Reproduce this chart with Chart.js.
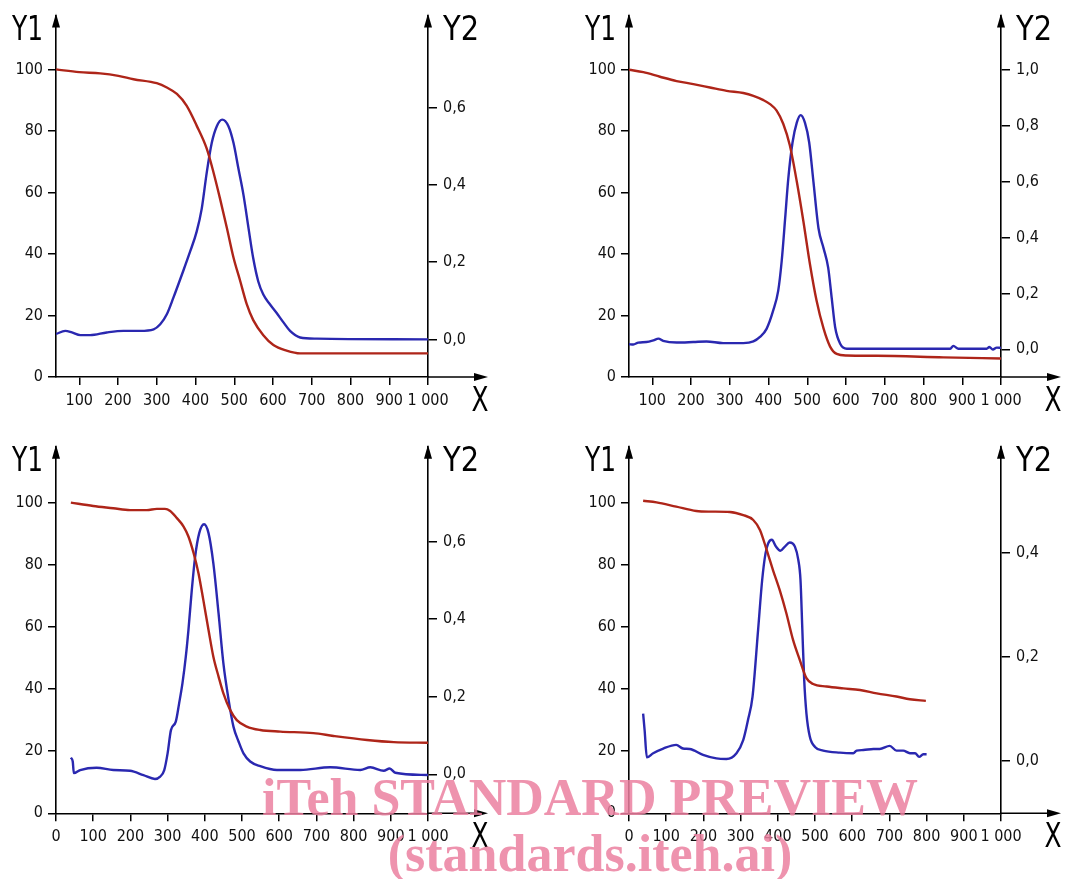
<!DOCTYPE html>
<html>
<head>
<meta charset="utf-8">
<script src="https://cdn.jsdelivr.net/npm/chart.js@4/dist/chart.umd.min.js"></script>
<style>
  body { margin: 0; background: #fff; width: 1086px; height: 879px; position: relative; overflow: hidden; }
  canvas { position: absolute; }
  .wm { position: absolute; left: 0; width: 1180px; text-align: center; white-space: nowrap;
        font: bold 52px "Liberation Serif", "Times New Roman", serif; color: rgb(236,128,160); opacity: 0.85; line-height: 52px; }
</style>
</head>
<body>
<canvas id="c1" width="543" height="430" style="left:0;top:0"></canvas>
<canvas id="c2" width="543" height="430" style="left:543px;top:0"></canvas>
<canvas id="c3" width="543" height="449" style="left:0;top:430px"></canvas>
<canvas id="c4" width="543" height="449" style="left:543px;top:430px"></canvas>
<div class="wm" style="top:772px">iTeh STANDARD PREVIEW</div>
<div class="wm" style="top:828px">(standards.iteh.ai)</div>
<script>
// panel 1 (top left)
const p1RedX = [40, 100, 154, 201, 240, 300, 326, 352, 377, 403, 429, 446, 463, 481, 498, 515, 532, 549, 575, 601, 635, 670, 800, 1000];
const p1RedY = [100.1, 99.2, 98.8, 98.0, 96.9, 95.6, 94.2, 92.1, 88.3, 81.8, 74.3, 66.8, 58.2, 48.5, 38.9, 31.4, 23.8, 18.5, 13.6, 10.4, 8.6, 7.7, 7.7, 7.7];
const p1BlueX = [40, 64, 81, 103, 128, 171, 214, 257, 292, 309, 326, 343, 365, 386, 403, 416, 429, 442, 455, 469, 485, 498, 511, 524, 537, 549, 562, 575, 592, 609, 627, 644, 670, 713, 1000];
const p1BlueY = [0.014, 0.022, 0.018, 0.011, 0.011, 0.018, 0.022, 0.022, 0.026, 0.039, 0.065, 0.108, 0.168, 0.227, 0.279, 0.338, 0.432, 0.509, 0.552, 0.569, 0.552, 0.509, 0.441, 0.373, 0.287, 0.210, 0.150, 0.116, 0.091, 0.069, 0.044, 0.022, 0.005, 0.002, 0.0];

// panel 2 (top right)
const p2RedX = [40, 77, 120, 163, 206, 249, 292, 335, 361, 387, 404, 421, 438, 455, 473, 490, 507, 524, 542, 559, 576, 602, 679, 851, 1000];
const p2RedY = [100, 99.2, 97.7, 96.3, 95.3, 94.2, 93.1, 92.4, 91.5, 90.1, 88.8, 86.7, 82.4, 75.4, 63.6, 50.7, 36.7, 24.9, 15.8, 9.9, 7.5, 7.0, 6.9, 6.4, 6.0];
const p2BlueX = [40, 51, 64, 85, 103, 116, 128, 163, 206, 240, 283, 335, 361, 378, 395, 412, 425, 434, 443, 451, 462, 473, 483, 494, 505, 516, 529, 542, 554, 563, 572, 585, 602, 679, 869, 877, 890, 963, 970, 979, 989, 1000];
const p2BlueY = [0.018, 0.017, 0.024, 0.026, 0.032, 0.038, 0.030, 0.024, 0.026, 0.028, 0.022, 0.022, 0.028, 0.044, 0.073, 0.138, 0.209, 0.315, 0.469, 0.610, 0.740, 0.811, 0.838, 0.811, 0.740, 0.599, 0.433, 0.362, 0.292, 0.185, 0.079, 0.020, 0.002, 0.002, 0.002, 0.012, 0.002, 0.002, 0.008, -0.001, 0.006, 0.005];

// panel 3 (bottom left)
const p3RedX = [40, 100, 154, 199, 244, 271, 293, 307, 325, 343, 356, 370, 383, 396, 410, 423, 437, 450, 468, 486, 513, 549, 603, 692, 746, 836, 908, 1000];
const p3RedY = [100, 98.9, 98.2, 97.6, 97.6, 98.0, 98.0, 97.3, 95.0, 92.3, 89.1, 83.7, 77.3, 68.7, 59.0, 50.4, 44.0, 38.6, 33.3, 30.0, 27.9, 26.8, 26.3, 25.8, 24.9, 23.6, 22.9, 22.7];
const p3BlueX = [40, 45, 48, 65, 109, 154, 199, 235, 266, 280, 291, 300, 309, 322, 331, 340, 349, 356, 365, 374, 385, 398, 410, 423, 437, 450, 464, 477, 491, 504, 522, 549, 594, 657, 737, 818, 845, 881, 897, 912, 1000];
const p3BlueY = [0.043, 0.033, 0.003, 0.011, 0.017, 0.011, 0.009, -0.002, -0.012, -0.006, 0.011, 0.054, 0.114, 0.136, 0.183, 0.235, 0.304, 0.372, 0.475, 0.561, 0.622, 0.645, 0.622, 0.544, 0.415, 0.286, 0.192, 0.123, 0.084, 0.054, 0.033, 0.021, 0.011, 0.011, 0.018, 0.011, 0.018, 0.009, 0.015, 0.004, -0.002];

// panel 4 (bottom right)
const p4RedX = [38, 74, 127, 181, 217, 271, 307, 334, 352, 370, 387, 405, 423, 441, 459, 477, 495, 531, 576, 621, 666, 719, 755, 798];
const p4RedY = [100.6, 100.1, 98.7, 97.3, 97.1, 97.0, 96.0, 94.4, 91.2, 84.8, 78.3, 71.9, 64.4, 55.8, 49.4, 43.5, 41.6, 40.8, 40.2, 39.7, 38.6, 37.6, 36.7, 36.2];
const p4BlueX = [38, 42, 48, 65, 92, 127, 145, 163, 199, 235, 262, 289, 307, 320, 332, 347, 358, 367, 374, 384, 395, 407, 419, 432, 446, 455, 461, 466, 471, 477, 486, 500, 522, 567, 603, 612, 630, 657, 674, 701, 719, 737, 755, 769, 780, 791, 800];
const p4BlueY = [0.091, 0.059, 0.007, 0.015, 0.024, 0.031, 0.024, 0.023, 0.012, 0.005, 0.004, 0.015, 0.040, 0.079, 0.123, 0.251, 0.347, 0.398, 0.417, 0.424, 0.411, 0.403, 0.411, 0.419, 0.411, 0.386, 0.347, 0.251, 0.155, 0.091, 0.047, 0.027, 0.020, 0.016, 0.015, 0.020, 0.021, 0.023, 0.023, 0.029, 0.020, 0.020, 0.015, 0.015, 0.008, 0.013, 0.013];

// axis ticks
const xTicksA = [100, 200, 300, 400, 500, 600, 700, 800, 900, 1000];
const xTicksB = [0, 100, 200, 300, 400, 500, 600, 700, 800, 900, 1000];
const y1Ticks = [0, 20, 40, 60, 80, 100];
const y2TicksA = [0, 0.2, 0.4, 0.6];
const y2TicksB = [0, 0.2, 0.4, 0.6, 0.8, 1.0];
const y2TicksC = [0, 0.2, 0.4];

const RED = '#ae2519';
const BLUE = '#2a28b0';
const FONT = '"Liberation Sans Narrow", "DejaVu Sans Condensed", sans-serif';

function pts(xs, ys) {
  return xs.map((x, i) => ({ x: x, y: ys[i] }));
}

function arrowUp(ctx, x, y) {
  ctx.beginPath();
  ctx.moveTo(x, y - 2);
  ctx.lineTo(x - 4, y + 12);
  ctx.lineTo(x + 4, y + 12);
  ctx.closePath();
  ctx.fill();
}

// draws a title squeezed to the narrow width of the drawing's lettering
function narrowText(ctx, txt, x, y, w, align) {
  const sx = Math.min(1, w / ctx.measureText(txt).width);
  ctx.save();
  ctx.translate(x, y);
  ctx.scale(sx, 1);
  ctx.textAlign = align;
  ctx.fillText(txt, 0, 0);
  ctx.restore();
}

const decor = {
  id: 'decor',
  afterDraw(chart) {
    const ctx = chart.ctx;
    const a = chart.chartArea;
    ctx.save();
    ctx.fillStyle = '#000';
    ctx.strokeStyle = '#000';
    ctx.lineWidth = 1.6;
    ctx.beginPath();
    ctx.moveTo(a.right, a.bottom);
    ctx.lineTo(a.right + 50, a.bottom);
    ctx.stroke();
    ctx.beginPath();
    ctx.moveTo(a.right + 60, a.bottom);
    ctx.lineTo(a.right + 46, a.bottom - 4);
    ctx.lineTo(a.right + 46, a.bottom + 4);
    ctx.closePath();
    ctx.fill();
    arrowUp(ctx, a.left, a.top);
    arrowUp(ctx, a.right, a.top);

    ctx.font = '34px ' + FONT;
    ctx.textBaseline = 'alphabetic';
    narrowText(ctx, 'Y1', a.left - 13, a.top + 24.5, 31, 'right');
    narrowText(ctx, 'Y2', a.right + 15, a.top + 24.5, 36, 'left');
    narrowText(ctx, 'X', a.right + 52, a.bottom + 33.5, 17, 'center');
    ctx.restore();
  }
};

function makeChart(id, cfg) {
  const canvas = document.getElementById(id);
  const W = canvas.width, H = canvas.height;
  const tickFont = { family: FONT, size: 16 };
  new Chart(canvas, {
    type: 'line',
    data: {
      datasets: [
        { data: pts(cfg.redX, cfg.redY), yAxisID: 'y', borderColor: RED, borderWidth: 2.4,
          pointRadius: 0, cubicInterpolationMode: 'monotone', fill: false },
        { data: pts(cfg.blueX, cfg.blueY), yAxisID: 'y2', borderColor: BLUE, borderWidth: 2.4,
          pointRadius: 0, cubicInterpolationMode: 'monotone', fill: false }
      ]
    },
    options: {
      responsive: false,
      animation: false,
      devicePixelRatio: 1,
      layout: { padding: { left: 0, top: cfg.T, right: W - cfg.R - 60, bottom: H - cfg.B - 40 } },
      plugins: { legend: { display: false }, tooltip: { enabled: false } },
      scales: {
        x: {
          type: 'linear', min: cfg.xMin, max: 1000,
          afterBuildTicks: s => { s.ticks = cfg.xTicks.map(v => ({ value: v })); },
          afterFit: s => { s.height = 40; },
          grid: { drawOnChartArea: false, tickLength: 8, color: '#000', lineWidth: 1.5 },
          border: { color: '#000', width: 1.6 },
          ticks: { font: tickFont, color: '#111', padding: 6, maxRotation: 0, autoSkip: false,
                   callback: v => v === 1000 ? '1 000' : String(v) }
        },
        y: {
          type: 'linear', position: 'left', min: 0, max: cfg.y1Max,
          afterBuildTicks: s => { s.ticks = y1Ticks.map(v => ({ value: v })); },
          afterFit: s => { s.width = cfg.L; },
          grid: { drawOnChartArea: false, tickLength: 8, color: '#000', lineWidth: 1.5 },
          border: { color: '#000', width: 1.6 },
          ticks: { font: tickFont, color: '#111', padding: 5, autoSkip: false }
        },
        y2: {
          type: 'linear', position: 'right', min: cfg.y2Min, max: cfg.y2Max,
          afterBuildTicks: s => { s.ticks = cfg.y2Ticks.map(v => ({ value: v })); },
          afterFit: s => { s.width = 60; },
          grid: { drawOnChartArea: false, tickLength: 9, color: '#000', lineWidth: 1.5 },
          border: { color: '#000', width: 1.6 },
          ticks: { font: tickFont, color: '#111', padding: 6, autoSkip: false,
                   callback: v => v.toFixed(1).replace('.', ',') }
        }
      }
    },
    plugins: [decor]
  });
}

makeChart('c1', { L: 56, R: 428, T: 12, B: 377, xMin: 40, xTicks: xTicksA, y1Max: 117.6,
  y2Min: -0.0974, y2Max: 0.8385, y2Ticks: y2TicksA,
  redX: p1RedX, redY: p1RedY, blueX: p1BlueX, blueY: p1BlueY });
makeChart('c2', { L: 86, R: 458, T: 12, B: 377, xMin: 40, xTicks: xTicksA, y1Max: 117.6,
  y2Min: -0.0992, y2Max: 1.194, y2Ticks: y2TicksB,
  redX: p2RedX, redY: p2RedY, blueX: p2BlueX, blueY: p2BlueY });
makeChart('c3', { L: 56, R: 428, T: 16.7, B: 383.3, xMin: 0, xTicks: xTicksB, y1Max: 118,
  y2Min: -0.1006, y2Max: 0.845, y2Ticks: y2TicksA,
  redX: p3RedX, redY: p3RedY, blueX: p3BlueX, blueY: p3BlueY });
makeChart('c4', { L: 86, R: 458, T: 16.7, B: 383.3, xMin: 0, xTicks: xTicksB, y1Max: 118,
  y2Min: -0.1002, y2Max: 0.6025, y2Ticks: y2TicksC,
  redX: p4RedX, redY: p4RedY, blueX: p4BlueX, blueY: p4BlueY });
</script>
</body>
</html>
